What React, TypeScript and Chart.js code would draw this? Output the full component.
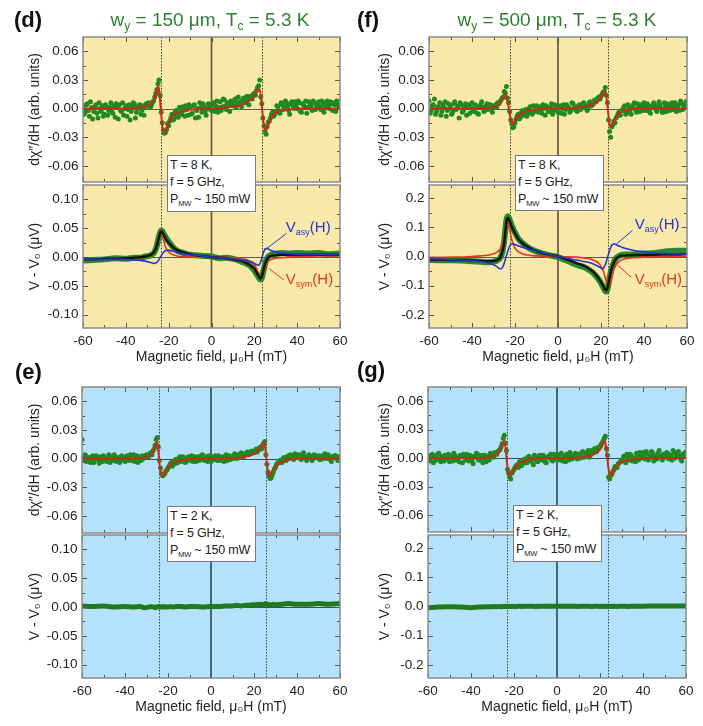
import React, { useEffect, useRef } from "react";
import { Chart, registerables } from "chart.js";
Chart.register(...registerables);

const FONT = 'Arial, "Liberation Sans", Helvetica, sans-serif';

// ---------- axes ----------
const FIELD = [
  -60, -59, -58, -57, -56, -55, -54, -53, -52, -51,
  -50, -49, -48, -47, -46, -45, -44, -43, -42, -41,
  -40, -39, -38, -37, -36, -35, -34, -33, -32, -31,
  -30, -29, -28, -27, -26, -25, -24, -23, -22, -21,
  -20, -19, -18, -17, -16, -15, -14, -13, -12, -11,
  -10, -9, -8, -7, -6, -5, -4, -3, -2, -1,
  0, 1, 2, 3, 4, 5, 6, 7, 8, 9,
  10, 11, 12, 13, 14, 15, 16, 17, 18, 19,
  20, 21, 22, 23, 24, 25, 26, 27, 28, 29,
  30, 31, 32, 33, 34, 35, 36, 37, 38, 39,
  40, 41, 42, 43, 44, 45, 46, 47, 48, 49,
  50, 51, 52, 53, 54, 55, 56, 57, 58, 59,
  60,
];
const FIELD_HALF = [
  -59.5, -58.5, -57.5, -56.5, -55.5, -54.5, -53.5, -52.5, -51.5, -50.5,
  -49.5, -48.5, -47.5, -46.5, -45.5, -44.5, -43.5, -42.5, -41.5, -40.5,
  -39.5, -38.5, -37.5, -36.5, -35.5, -34.5, -33.5, -32.5, -31.5, -30.5,
  -29.5, -28.5, -27.5, -26.5, -25.5, -24.5, -23.5, -22.5, -21.5, -20.5,
  -19.5, -18.5, -17.5, -16.5, -15.5, -14.5, -13.5, -12.5, -11.5, -10.5,
  -9.5, -8.5, -7.5, -6.5, -5.5, -4.5, -3.5, -2.5, -1.5, -0.5,
  0.5, 1.5, 2.5, 3.5, 4.5, 5.5, 6.5, 7.5, 8.5, 9.5,
  10.5, 11.5, 12.5, 13.5, 14.5, 15.5, 16.5, 17.5, 18.5, 19.5,
  20.5, 21.5, 22.5, 23.5, 24.5, 25.5, 26.5, 27.5, 28.5, 29.5,
  30.5, 31.5, 32.5, 33.5, 34.5, 35.5, 36.5, 37.5, 38.5, 39.5,
  40.5, 41.5, 42.5, 43.5, 44.5, 45.5, 46.5, 47.5, 48.5, 49.5,
  50.5, 51.5, 52.5, 53.5, 54.5, 55.5, 56.5, 57.5, 58.5, 59.5,
];
const FIT_FIELD = [
  -60, -55, -50, -45, -40,
  -36, -33, -31, -29, -28,
  -27, -26.5, -26, -25.5, -25,
  -24.5, -24, -23.5, -23, -22.5,
  -22, -21.5, -21, -20, -19,
  -18, -16, -14, -12, -10,
  -7, -4, 0, 4, 7,
  10, 12, 14, 16, 18,
  19, 20, 20.5, 21, 21.5,
  22, 22.5, 23, 23.5, 24,
  24.5, 25, 25.5, 26, 26.5,
  27, 28, 29, 30, 33,
  36, 40, 45, 50, 55,
  60,
];
const X_TICKS = [-60, -40, -20, 0, 20, 40, 60];
const X_MINOR = [-50, -30, -10, 10, 30, 50];
const CHI_TICKS = [-0.06, -0.03, 0, 0.03, 0.06];
const V_TICKS_D = [-0.1, -0.05, 0, 0.05, 0.1];
const V_TICKS_F = [-0.2, -0.1, 0, 0.1, 0.2];

// resonance fields (dotted lines)
const D_RES = [-23.7, 23.8];
const E_RES = [-24.3, 25.6];
const F_RES = [-22.5, 23.1];
const G_RES = [-23.4, 23.5];

// ---------- (d) 150 um, 8 K ----------
const D_CHI_DATA = [
  0.002, -0.004, 0.005, -0.008, 0.001, -0.003, 0.004, -0.010, 0.000, 0.003,
  -0.006, 0.002, -0.002, 0.006, -0.005, -0.009, 0.001, 0.004, -0.003, -0.007,
  0.003, -0.001, -0.012, 0.002, 0.005, -0.004, 0.000, -0.006, 0.003, 0.001,
  0.003, 0.005, 0.004, 0.008, 0.016, 0.026, 0.014, -0.015, -0.026, -0.022,
  -0.018, -0.010, -0.012, -0.004, -0.008, 0.001, -0.006, -0.002, 0.003, -0.007,
  0.002, -0.005, 0.004, -0.002, -0.009, 0.001, 0.005, -0.003, 0.000, 0.004,
  -0.002, 0.006, 0.003, -0.004, 0.007, 0.002, 0.009, -0.001, 0.004, 0.008,
  0.003, 0.010, 0.005, 0.007, 0.002, 0.011, 0.006, 0.009, 0.013, 0.010,
  0.016, 0.019, 0.024, 0.012, -0.010, -0.024, -0.019, -0.013, -0.006, -0.008,
  -0.003, 0.002, -0.005, 0.004, 0.001, 0.006, -0.002, 0.005, 0.003, 0.007,
  0.000, 0.006, -0.004, 0.004, 0.008, 0.001, 0.005, -0.002, 0.006, 0.003,
  0.007, -0.001, 0.004, 0.002, 0.008, 0.000, 0.005, 0.006, -0.003, 0.004,
  0.002,
];
const D_CHI_DATA2 = [
  -0.006, 0.004, -0.002, 0.007, -0.011, 0.002, -0.005, 0.006, -0.003, -0.008,
  0.004, -0.007, 0.001, -0.004, 0.003, 0.005, -0.011, -0.002, 0.006, 0.000,
  -0.008, 0.004, -0.003, 0.006, -0.010, 0.002, 0.004, -0.002, -0.007, 0.005,
  0.006, 0.001, 0.007, 0.012, 0.020, 0.030, -0.004, -0.023, -0.025, -0.016,
  -0.013, -0.006, -0.011, -0.002, -0.009, -0.004, 0.002, -0.008, -0.001, 0.004,
  -0.006, 0.003, -0.010, 0.000, 0.006, -0.004, 0.002, -0.007, 0.005, -0.001,
  0.004, -0.003, 0.008, 0.001, -0.002, 0.010, 0.003, 0.006, -0.003, 0.005,
  0.008, 0.001, 0.012, 0.004, 0.009, 0.006, 0.013, 0.004, 0.011, 0.015,
  0.014, 0.022, 0.030, 0.005, -0.018, -0.027, -0.014, -0.010, -0.004, -0.006,
  0.003, -0.004, 0.006, -0.001, 0.008, 0.002, -0.006, 0.007, 0.000, 0.004,
  0.008, -0.003, 0.005, 0.002, -0.005, 0.007, 0.003, 0.008, -0.001, 0.005,
  0.002, 0.008, -0.004, 0.006, 0.003, 0.007, -0.002, 0.004, 0.008, 0.001,
];
const D_CHI_FIT = [
  0, 0, 0, 0, 0,
  0.0005, 0.001, 0.002, 0.004, 0.006,
  0.009, 0.011, 0.014, 0.019, 0.023,
  0.02, 0.008, -0.006, -0.017, -0.023,
  -0.025, -0.024, -0.021, -0.015, -0.011,
  -0.008, -0.005, -0.003, -0.002, -0.001,
  -0.0005, 0, 0, 0.0005, 0.001,
  0.002, 0.003, 0.004, 0.006, 0.009,
  0.011, 0.013, 0.015, 0.017, 0.019,
  0.02, 0.02, 0.014, 0.003, -0.009,
  -0.018, -0.022, -0.023, -0.02, -0.017,
  -0.014, -0.009, -0.006, -0.004, -0.002,
  -0.001, 0, 0, 0, 0,
  0,
];
const D_V_DATA = [
  -0.006, -0.005, -0.004, -0.002, -0.003,
  -0.001, -0.001, 0.001, 0.002, 0.004,
  0.007, 0.010, 0.014, 0.020, 0.028,
  0.036, 0.042, 0.046, 0.045, 0.041,
  0.038, 0.035, 0.032, 0.027, 0.022,
  0.017, 0.011, 0.008, 0.006, 0.004,
  0.003, 0.002, 0.001, -0.002, -0.001,
  -0.003, -0.005, -0.008, -0.011, -0.015,
  -0.019, -0.023, -0.026, -0.029, -0.032,
  -0.035, -0.038, -0.039, -0.036, -0.028,
  -0.020, -0.012, -0.006, -0.002, 0.001,
  0.002, 0.004, 0.005, 0.006, 0.007,
  0.006, 0.007, 0.006, 0.007, 0.005,
  0.006,
];
const D_V_FIT = [
  -0.004, -0.004, -0.003, -0.003, -0.002,
  -0.001, 0.000, 0.001, 0.003, 0.005,
  0.008, 0.011, 0.015, 0.020, 0.027,
  0.034, 0.041, 0.045, 0.044, 0.040,
  0.036, 0.033, 0.030, 0.025, 0.021,
  0.017, 0.012, 0.009, 0.007, 0.005,
  0.003, 0.002, 0.000, -0.001, -0.002,
  -0.004, -0.005, -0.007, -0.010, -0.014,
  -0.017, -0.020, -0.023, -0.026, -0.030,
  -0.033, -0.036, -0.037, -0.034, -0.027,
  -0.019, -0.012, -0.007, -0.003, -0.001,
  0.001, 0.002, 0.003, 0.003, 0.004,
  0.004, 0.004, 0.004, 0.004, 0.004,
  0.004,
];
const D_V_SYM = [
  -0.003, -0.003, -0.003, -0.002, -0.002,
  -0.001, 0.000, 0.001, 0.003, 0.005,
  0.009, 0.012, 0.017, 0.023, 0.031,
  0.038, 0.042, 0.042, 0.038, 0.031,
  0.024, 0.018, 0.014, 0.009, 0.006,
  0.004, 0.002, 0.001, 0.001, 0.000,
  0.000, 0.000, 0.000, 0.000, -0.001,
  -0.001, -0.002, -0.003, -0.004, -0.007,
  -0.009, -0.013, -0.016, -0.020, -0.025,
  -0.030, -0.034, -0.036, -0.035, -0.031,
  -0.025, -0.019, -0.014, -0.010, -0.008,
  -0.006, -0.004, -0.003, -0.002, -0.001,
  0.000, 0.001, 0.001, 0.002, 0.002,
  0.002,
];
const D_V_ASY = [
  -0.004, -0.004, -0.004, -0.004, -0.004,
  -0.005, -0.006, -0.007, -0.009, -0.010,
  -0.011, -0.011, -0.010, -0.009, -0.007,
  -0.004, -0.001, 0.002, 0.005, 0.008,
  0.010, 0.011, 0.012, 0.012, 0.011,
  0.010, 0.008, 0.006, 0.005, 0.004,
  0.003, 0.002, 0.000, -0.001, -0.002,
  -0.003, -0.004, -0.005, -0.006, -0.008,
  -0.009, -0.011, -0.012, -0.013, -0.014,
  -0.014, -0.012, -0.008, -0.002, 0.005,
  0.010, 0.014, 0.015, 0.015, 0.014,
  0.013, 0.011, 0.010, 0.009, 0.007,
  0.006, 0.005, 0.004, 0.004, 0.004,
  0.004,
];

// ---------- (e) 150 um, 2 K ----------
const E_CHI_DATA = [
  0.020, 0.002, -0.003, 0.001, -0.004, 0.003, -0.001, 0.002, -0.005, 0.000,
  0.003, -0.002, 0.001, -0.004, 0.002, 0.004, -0.003, 0.000, 0.002, -0.001,
  -0.003, 0.003, 0.001, -0.002, 0.004, 0.000, -0.004, 0.002, 0.003, 0.001,
  0.004, 0.002, 0.006, 0.008, 0.014, 0.022, -0.002, -0.016, -0.017, -0.013,
  -0.010, -0.006, -0.008, -0.003, -0.005, 0.000, -0.003, 0.002, -0.004, 0.001,
  -0.002, 0.003, 0.000, -0.003, 0.002, -0.001, 0.004, -0.002, 0.001, 0.003,
  -0.003, 0.001, 0.003, -0.002, 0.002, 0.000, -0.003, 0.004, 0.001, -0.001,
  0.002, 0.005, 0.000, 0.003, 0.006, 0.002, 0.004, 0.007, 0.005, 0.008,
  0.006, 0.010, 0.009, 0.012, 0.014, 0.018, -0.006, -0.018, -0.020, -0.014,
  -0.009, -0.005, -0.002, -0.004, 0.001, -0.002, 0.003, 0.004, 0.001, 0.005,
  0.002, 0.004, -0.001, 0.006, 0.002, 0.000, 0.003, -0.002, 0.004, 0.001,
  0.003, -0.001, 0.002, 0.005, 0.000, 0.002, -0.003, 0.001, 0.003, -0.002,
  0.001,
];
const E_CHI_DATA2 = [
  -0.002, 0.004, 0.000, -0.003, 0.002, -0.004, 0.003, -0.001, 0.002, -0.003,
  0.001, -0.003, 0.004, 0.000, -0.002, 0.002, 0.001, -0.004, 0.003, 0.000,
  0.002, -0.002, 0.004, -0.001, -0.003, 0.003, 0.001, -0.002, 0.000, 0.003,
  0.002, 0.005, 0.004, 0.010, 0.020, 0.012, -0.010, -0.018, -0.016, -0.012,
  -0.008, -0.004, -0.006, -0.001, -0.004, 0.002, -0.002, 0.000, -0.003, 0.002,
  0.001, -0.003, 0.002, 0.000, -0.002, 0.003, -0.001, 0.002, -0.003, 0.000,
  0.002, -0.001, 0.000, 0.003, -0.002, 0.002, 0.001, -0.002, 0.003, 0.002,
  0.000, 0.003, 0.004, 0.001, 0.005, 0.003, 0.006, 0.004, 0.007, 0.006,
  0.008, 0.007, 0.011, 0.010, 0.016, 0.004, -0.014, -0.021, -0.017, -0.011,
  -0.006, -0.003, -0.004, 0.000, -0.002, 0.002, 0.000, 0.003, -0.001, 0.002,
  0.004, 0.000, 0.003, 0.001, -0.002, 0.004, 0.002, 0.000, 0.003, 0.001,
  -0.001, 0.003, 0.000, 0.002, 0.004, -0.001, 0.002, 0.003, 0.000, 0.002,
];
const E_CHI_FIT = [
  0, 0, 0, 0, 0,
  0, 0.0005, 0.001, 0.003, 0.004,
  0.007, 0.009, 0.012, 0.016, 0.018,
  0.008, -0.005, -0.012, -0.016, -0.018,
  -0.017, -0.015, -0.013, -0.01, -0.007,
  -0.005, -0.003, -0.002, -0.001, -0.0005,
  0, 0, 0, 0, 0,
  0, 0.0005, 0.001, 0.002, 0.003,
  0.004, 0.005, 0.006, 0.007, 0.008,
  0.009, 0.01, 0.011, 0.013, 0.015,
  0.017, 0.015, 0.006, -0.006, -0.014,
  -0.018, -0.015, -0.011, -0.008, -0.003,
  -0.001, 0, 0, 0, 0,
  0,
];
const E_V_DATA = [
  0.002, 0.001, 0.002, 0.000, 0.001,
  0.000, 0.001, -0.001, 0.000, 0.001,
  0.000, 0.000, -0.001, 0.000, 0.000,
  0.001, 0.000, 0.000, 0.001, 0.000,
  0.000, 0.001, 0.000, 0.000, 0.001,
  0.000, 0.001, 0.001, 0.000, 0.001,
  0.001, 0.000, 0.001, 0.001, 0.002,
  0.002, 0.003, 0.002, 0.003, 0.003,
  0.004, 0.004, 0.003, 0.004, 0.004,
  0.005, 0.004, 0.005, 0.004, 0.005,
  0.004, 0.005, 0.006, 0.005, 0.004,
  0.004, 0.004, 0.005, 0.004, 0.005,
  0.006, 0.005, 0.005, 0.006, 0.005,
  0.006,
];

// ---------- (f) 500 um, 8 K ----------
const F_CHI_DATA = [
  0.008, -0.002, 0.004, -0.006, 0.002, 0.006, -0.003, 0.001, -0.008, 0.005,
  0.003, -0.004, 0.007, 0.000, -0.010, 0.004, -0.002, 0.005, 0.001, -0.005,
  0.006, -0.003, 0.002, -0.006, 0.004, 0.001, -0.002, 0.005, 0.000, 0.003,
  0.002, 0.004, 0.006, 0.007, 0.011, 0.018, 0.023, 0.006, -0.012, -0.020,
  -0.015, -0.008, -0.011, -0.004, -0.007, -0.001, -0.005, 0.002, -0.006, -0.002,
  0.003, -0.004, -0.001, 0.004, -0.007, 0.001, -0.003, 0.005, -0.002, 0.002,
  -0.004, 0.003, 0.000, -0.006, 0.004, 0.001, -0.002, 0.005, 0.002, -0.003,
  0.004, 0.001, 0.006, 0.003, 0.000, 0.007, 0.004, 0.009, 0.008, 0.012,
  0.013, 0.017, 0.022, 0.006, -0.024, -0.019, -0.013, -0.010, -0.005, -0.007,
  -0.002, 0.003, -0.004, 0.001, -0.006, 0.004, -0.001, 0.005, -0.003, 0.002,
  0.006, -0.002, 0.003, -0.005, 0.001, 0.004, -0.003, 0.007, 0.000, -0.004,
  0.002, 0.005, -0.002, 0.006, 0.001, -0.003, 0.004, 0.008, -0.001, 0.003,
  0.005,
];
const F_CHI_DATA2 = [
  -0.005, 0.003, 0.010, -0.003, 0.001, -0.007, 0.004, 0.007, -0.002, 0.000,
  -0.006, 0.005, -0.001, 0.003, 0.006, -0.004, 0.002, -0.007, 0.004, 0.001,
  -0.002, 0.004, -0.005, 0.002, 0.007, -0.003, 0.003, -0.001, 0.004, -0.004,
  0.003, 0.001, 0.005, 0.009, 0.012, 0.016, 0.011, -0.003, -0.016, -0.019,
  -0.011, -0.006, -0.009, -0.002, -0.005, -0.008, 0.000, -0.004, 0.003, -0.003,
  -0.002, 0.002, -0.005, 0.000, 0.003, -0.003, 0.001, -0.006, 0.004, -0.001,
  0.002, -0.005, 0.004, -0.001, 0.002, -0.004, 0.006, 0.000, -0.002, 0.003,
  -0.001, 0.005, 0.002, -0.002, 0.006, 0.003, 0.005, 0.007, 0.011, 0.010,
  0.015, 0.018, 0.014, -0.012, -0.030, -0.017, -0.015, -0.008, -0.004, -0.002,
  0.001, -0.006, 0.004, -0.002, 0.002, 0.006, -0.004, 0.001, 0.004, -0.002,
  0.002, 0.005, -0.003, 0.003, 0.006, -0.001, 0.002, 0.004, -0.004, 0.006,
  -0.003, 0.001, 0.004, -0.001, 0.006, 0.002, -0.002, 0.005, 0.003, 0.007,
];
const F_CHI_FIT = [
  0, 0, 0, 0, 0,
  0, 0.0005, 0.001, 0.002, 0.003,
  0.005, 0.007, 0.009, 0.012, 0.014,
  0.015, 0.013, 0.008, 0.002, -0.005,
  -0.011, -0.015, -0.016, -0.013, -0.009,
  -0.007, -0.004, -0.002, -0.0015, -0.001,
  0, 0, 0, 0, 0.0005,
  0.001, 0.002, 0.003, 0.004, 0.007,
  0.009, 0.012, 0.014, 0.016, 0.018,
  0.017, 0.012, 0.003, -0.008, -0.017,
  -0.019, -0.018, -0.015, -0.013, -0.011,
  -0.009, -0.006, -0.004, -0.003, -0.001,
  0, 0, 0, 0, 0,
  0,
];
const F_V_DATA = [
  -0.012, -0.013, -0.013, -0.014, -0.016,
  -0.018, -0.020, -0.019, -0.016, -0.012,
  -0.006, 0.001, 0.012, 0.030, 0.054,
  0.090, 0.124, 0.138, 0.135, 0.126,
  0.116, 0.105, 0.097, 0.082, 0.068,
  0.057, 0.043, 0.032, 0.023, 0.017,
  0.010, 0.004, -0.002, -0.014, -0.024,
  -0.032, -0.036, -0.044, -0.054, -0.070,
  -0.080, -0.091, -0.098, -0.105, -0.112,
  -0.118, -0.120, -0.111, -0.094, -0.073,
  -0.055, -0.040, -0.029, -0.020, -0.012,
  -0.006, 0.000, 0.004, 0.006, 0.007,
  0.008, 0.010, 0.012, 0.017, 0.020,
  0.020,
];
const F_V_FIT = [
  -0.011, -0.011, -0.012, -0.012, -0.013,
  -0.015, -0.016, -0.016, -0.014, -0.011,
  -0.005, 0.002, 0.012, 0.028, 0.050,
  0.085, 0.118, 0.132, 0.130, 0.122,
  0.112, 0.102, 0.094, 0.080, 0.066,
  0.056, 0.042, 0.033, 0.024, 0.018,
  0.011, 0.006, 0.000, -0.010, -0.018,
  -0.026, -0.032, -0.040, -0.050, -0.066,
  -0.076, -0.087, -0.094, -0.101, -0.108,
  -0.114, -0.116, -0.108, -0.092, -0.072,
  -0.054, -0.040, -0.030, -0.021, -0.014,
  -0.008, -0.002, 0.002, 0.003, 0.004,
  0.005, 0.005, 0.006, 0.007, 0.007,
  0.008,
];
const F_V_SYM = [
  -0.003, -0.003, -0.002, -0.002, 0.000,
  0.002, 0.004, 0.007, 0.012, 0.017,
  0.025, 0.032, 0.042, 0.056, 0.074,
  0.096, 0.113, 0.118, 0.110, 0.094,
  0.075, 0.058, 0.046, 0.029, 0.020,
  0.014, 0.008, 0.005, 0.003, 0.002,
  0.001, 0.000, 0.000, -0.001, -0.002,
  -0.003, -0.005, -0.007, -0.011, -0.018,
  -0.024, -0.033, -0.040, -0.049, -0.060,
  -0.073, -0.087, -0.098, -0.102, -0.097,
  -0.085, -0.070, -0.056, -0.045, -0.036,
  -0.029, -0.020, -0.014, -0.010, -0.006,
  -0.004, -0.002, -0.001, 0.000, 0.000,
  0.000,
];
const F_V_ASY = [
  -0.009, -0.010, -0.011, -0.012, -0.014,
  -0.017, -0.021, -0.025, -0.032, -0.037,
  -0.042, -0.042, -0.039, -0.032, -0.022,
  -0.010, 0.003, 0.015, 0.026, 0.035,
  0.041, 0.043, 0.043, 0.041, 0.038,
  0.035, 0.030, 0.026, 0.022, 0.018,
  0.012, 0.006, 0.000, -0.006, -0.010,
  -0.014, -0.017, -0.020, -0.024, -0.031,
  -0.035, -0.040, -0.042, -0.041, -0.036,
  -0.028, -0.017, -0.004, 0.009, 0.021,
  0.031, 0.038, 0.042, 0.043, 0.043,
  0.041, 0.037, 0.034, 0.031, 0.025,
  0.020, 0.016, 0.012, 0.010, 0.009,
  0.008,
];

// ---------- (g) 500 um, 2 K ----------
const G_CHI_DATA = [
  0.002, -0.003, 0.004, 0.000, -0.002, 0.005, -0.004, 0.001, 0.003, -0.001,
  -0.004, 0.002, 0.005, -0.002, 0.000, 0.003, -0.005, 0.001, 0.004, -0.003,
  0.002, -0.006, 0.001, 0.004, -0.002, 0.003, 0.000, -0.004, 0.002, 0.005,
  0.003, 0.006, 0.004, 0.008, 0.012, 0.021, 0.016, -0.012, -0.020, -0.016,
  -0.012, -0.008, -0.010, -0.004, -0.006, -0.001, -0.005, 0.002, -0.003, -0.007,
  0.001, -0.004, 0.003, -0.002, 0.000, -0.005, 0.002, 0.004, -0.003, 0.001,
  0.003, -0.002, 0.005, 0.000, -0.004, 0.002, 0.006, -0.001, 0.003, 0.001,
  0.004, 0.000, 0.007, 0.003, 0.005, 0.001, 0.008, 0.006, 0.009, 0.011,
  0.012, 0.016, 0.021, 0.010, -0.020, -0.018, -0.014, -0.009, -0.010, -0.005,
  -0.002, 0.002, -0.005, 0.001, 0.004, -0.003, 0.000, 0.005, -0.002, 0.003,
  0.006, -0.001, 0.004, 0.000, 0.007, -0.003, 0.002, 0.005, 0.001, -0.002,
  0.004, 0.006, -0.001, 0.003, 0.008, 0.000, 0.005, 0.002, -0.003, 0.004,
  0.002,
];
const G_CHI_DATA2 = [
  -0.002, 0.003, -0.005, 0.002, 0.004, -0.001, 0.002, -0.003, 0.000, 0.004,
  0.001, -0.003, 0.003, 0.000, -0.004, 0.002, 0.004, -0.002, 0.000, 0.003,
  -0.003, 0.002, 0.005, -0.002, 0.001, -0.005, 0.003, 0.001, -0.002, 0.002,
  0.001, 0.004, 0.007, 0.009, 0.015, 0.024, 0.008, -0.016, -0.022, -0.014,
  -0.010, -0.007, -0.004, -0.008, -0.002, -0.005, 0.001, -0.003, -0.001, 0.003,
  -0.003, 0.002, -0.001, 0.003, -0.004, 0.001, 0.000, -0.002, 0.004, -0.001,
  0.001, 0.004, -0.003, 0.002, 0.004, -0.002, 0.003, 0.001, 0.005, -0.001,
  0.002, 0.006, 0.001, 0.004, 0.008, 0.003, 0.006, 0.010, 0.007, 0.012,
  0.014, 0.018, 0.023, 0.003, -0.022, -0.017, -0.012, -0.010, -0.006, -0.004,
  -0.003, 0.001, 0.004, -0.002, 0.003, 0.000, -0.004, 0.003, 0.006, 0.000,
  0.003, 0.007, -0.002, 0.002, 0.005, 0.001, -0.001, 0.008, 0.002, 0.004,
  0.001, 0.005, 0.002, -0.002, 0.006, 0.003, 0.007, -0.001, 0.004, 0.006,
];
const G_CHI_FIT = [
  0, 0, 0, 0, 0,
  0, 0.0005, 0.001, 0.003, 0.004,
  0.006, 0.008, 0.011, 0.014, 0.017,
  0.018, 0.012, 0.001, -0.01, -0.017,
  -0.019, -0.018, -0.016, -0.012, -0.009,
  -0.006, -0.004, -0.002, -0.001, -0.0005,
  0, 0, 0, 0, 0,
  0.0005, 0.001, 0.002, 0.003, 0.005,
  0.007, 0.009, 0.011, 0.013, 0.016,
  0.018, 0.016, 0.008, -0.002, -0.012,
  -0.018, -0.019, -0.017, -0.015, -0.013,
  -0.011, -0.008, -0.005, -0.004, -0.002,
  -0.001, 0, 0, 0, 0,
  0,
];
const G_V_DATA = [
  -0.004, -0.002, -0.001, -0.002, -0.004,
  -0.002, -0.001, -0.001, 0.000, -0.001,
  0.000, 0.000, -0.001, 0.000, 0.000,
  0.000, 0.001, 0.000, 0.000, 0.001,
  0.000, 0.000, 0.001, 0.000, 0.000,
  0.001, 0.000, 0.001, 0.001, 0.000,
  0.001, 0.001, 0.001, 0.001, 0.001,
  0.000, 0.001, 0.001, 0.000, 0.001,
  0.001, 0.000, 0.001, 0.001, 0.000,
  0.001, 0.001, 0.000, 0.001, 0.001,
  0.000, 0.001, 0.001, 0.000, 0.001,
  0.001, 0.000, 0.001, 0.001, 0.000,
  0.001, 0.001, 0.002, 0.002, 0.002,
  0.002,
];

// ---------- styles ----------
const YELLOW = "#f8e9aa";
const BLUE = "#b4e2fa";
const DOT = "#1f8a1f";
const FIT_RED = "#cc2a18";
const LINE_GREEN = "#2a8a2a";
const SYM_RED = "#e8341c";
const ASY_BLUE = "#2634d6";
const CHI_TITLE = "d\u03C7\u2033/dH (arb. units)";
const V_TITLE = "V - V\u2080 (\u03BCV)";
const X_TITLE = "Magnetic field, \u03BC\u2080H (mT)";

type Series = { field: number[]; values: number[]; kind: "dots" | "line"; color: string; width?: number; radius?: number };
type Note = { main: string; sub: string; tail: string; color: string; x: number; y: number; lx1: number; ly1: number; lx2: number; ly2: number };

const dots = (field: number[], values: number[]): Series => ({ field, values, kind: "dots", color: DOT, radius: 2.5 });
const line = (values: number[], color: string, width: number): Series => ({ field: FIT_FIELD, values, kind: "line", color, width });

const D_NOTES: Note[] = [
  { main: "V", sub: "asy", tail: "(H)", color: ASY_BLUE, x: 34.7, y: 0.051, lx1: 24.8, ly1: 0.012, lx2: 35.0, ly2: 0.041 },
  { main: "V", sub: "sym", tail: "(H)", color: SYM_RED, x: 34.7, y: -0.039, lx1: 26.9, ly1: -0.02, lx2: 33.9, ly2: -0.04 },
];
const F_NOTES: Note[] = [
  { main: "V", sub: "asy", tail: "(H)", color: ASY_BLUE, x: 35.7, y: 0.109, lx1: 27.2, ly1: 0.043, lx2: 34.6, ly2: 0.089 },
  { main: "V", sub: "sym", tail: "(H)", color: SYM_RED, x: 35.7, y: -0.079, lx1: 27.9, ly1: -0.031, lx2: 34.1, ly2: -0.071 },
];

type PanelDef = {
  key: string; box: number[]; colX: number; colW: number; xAxis: boolean;
  yMin: number; yMax: number; ticks: number[]; digits: number; yTitle: string;
  bg: string; res: number[]; series: Series[]; notes?: Note[];
};

const PANELS: PanelDef[] = [
  { key: "d1", box: [83, 37, 340, 182], colX: 0, colW: 350, xAxis: false, yMin: -0.077, yMax: 0.075, ticks: CHI_TICKS, digits: 2, yTitle: CHI_TITLE, bg: YELLOW, res: D_RES,
    series: [line(D_CHI_FIT, FIT_RED, 2), dots(FIELD, D_CHI_DATA), dots(FIELD_HALF, D_CHI_DATA2)] },
  { key: "d2", box: [83, 185, 340, 328], colX: 0, colW: 350, xAxis: true, yMin: -0.123, yMax: 0.125, ticks: V_TICKS_D, digits: 2, yTitle: V_TITLE, bg: YELLOW, res: D_RES,
    series: [line(D_V_ASY, ASY_BLUE, 1.6), line(D_V_FIT, "#111111", 2.4), line(D_V_SYM, SYM_RED, 1.6), line(D_V_DATA, LINE_GREEN, 6)], notes: D_NOTES },
  { key: "e1", box: [82, 387, 340, 533], colX: 0, colW: 350, xAxis: false, yMin: -0.078, yMax: 0.075, ticks: CHI_TICKS, digits: 2, yTitle: CHI_TITLE, bg: BLUE, res: E_RES,
    series: [line(E_CHI_FIT, FIT_RED, 2), dots(FIELD, E_CHI_DATA), dots(FIELD_HALF, E_CHI_DATA2)] },
  { key: "e2", box: [82, 535, 340, 678], colX: 0, colW: 350, xAxis: true, yMin: -0.123, yMax: 0.125, ticks: V_TICKS_D, digits: 2, yTitle: V_TITLE, bg: BLUE, res: E_RES,
    series: [line(E_V_DATA, "#1f7a1f", 5)] },
  { key: "f1", box: [429, 37, 687, 182], colX: 350, colW: 353, xAxis: false, yMin: -0.077, yMax: 0.075, ticks: CHI_TICKS, digits: 2, yTitle: CHI_TITLE, bg: YELLOW, res: F_RES,
    series: [line(F_CHI_FIT, FIT_RED, 2), dots(FIELD, F_CHI_DATA), dots(FIELD_HALF, F_CHI_DATA2)] },
  { key: "f2", box: [429, 185, 687, 328], colX: 350, colW: 353, xAxis: true, yMin: -0.245, yMax: 0.245, ticks: V_TICKS_F, digits: 1, yTitle: V_TITLE, bg: YELLOW, res: F_RES,
    series: [line(F_V_ASY, ASY_BLUE, 1.6), line(F_V_FIT, "#111111", 2.4), line(F_V_SYM, SYM_RED, 1.6), line(F_V_DATA, LINE_GREEN, 6)], notes: F_NOTES },
  { key: "g1", box: [428, 387, 686, 532], colX: 350, colW: 353, xAxis: false, yMin: -0.078, yMax: 0.075, ticks: CHI_TICKS, digits: 2, yTitle: CHI_TITLE, bg: BLUE, res: G_RES,
    series: [line(G_CHI_FIT, FIT_RED, 2), dots(FIELD, G_CHI_DATA), dots(FIELD_HALF, G_CHI_DATA2)] },
  { key: "g2", box: [428, 535, 686, 678], colX: 350, colW: 353, xAxis: true, yMin: -0.245, yMax: 0.245, ticks: V_TICKS_F, digits: 1, yTitle: V_TITLE, bg: BLUE, res: G_RES,
    series: [line(G_V_DATA, "#1f7a1f", 5)] },
];

function Panel({ def }: { def: PanelDef }) {
  const ref = useRef<HTMLCanvasElement | null>(null);
  const [L, T, R, B] = def.box;
  const padTop = 6;
  const xh = def.xAxis ? 38 : 0;
  const padBottom = def.xAxis ? 2 : 6;
  const H = B - T + padTop + xh + padBottom;
  const W = def.colW;

  useEffect(() => {
    const canvas = ref.current;
    if (!canvas) return;
    const yellow = def.bg === YELLOW;
    const zeroColor = yellow ? "#5e5a48" : "#34505f";
    const dotColor = yellow ? "#3d3d3d" : "#2e4b5c";

    const plugin = {
      id: "panelDeco",
      beforeDraw(chart: any) {
        const { ctx, chartArea: a } = chart;
        ctx.save();
        ctx.fillStyle = def.bg;
        ctx.fillRect(a.left, a.top, a.right - a.left, a.bottom - a.top);
        ctx.restore();
      },
      beforeDatasetsDraw(chart: any) {
        const { ctx, chartArea: a, scales } = chart;
        const xs = scales.x, ys = scales.y;
        ctx.save();
        ctx.strokeStyle = dotColor;
        ctx.lineWidth = 1;
        ctx.setLineDash([1.5, 1.5]);
        def.res.forEach((v) => {
          const px = Math.round(xs.getPixelForValue(v)) + 0.5;
          ctx.beginPath(); ctx.moveTo(px, a.top); ctx.lineTo(px, a.bottom); ctx.stroke();
        });
        ctx.setLineDash([]);
        ctx.strokeStyle = zeroColor;
        ctx.lineWidth = 1;
        const py = Math.round(ys.getPixelForValue(0)) + 0.5;
        ctx.beginPath(); ctx.moveTo(a.left, py); ctx.lineTo(a.right, py); ctx.stroke();
        ctx.lineWidth = 1.7;
        const px0 = xs.getPixelForValue(0);
        ctx.beginPath(); ctx.moveTo(px0, a.top); ctx.lineTo(px0, a.bottom); ctx.stroke();
        ctx.restore();
      },
      afterDatasetsDraw(chart: any) {
        const { ctx, chartArea: a, scales } = chart;
        const xs = scales.x, ys = scales.y;
        ctx.save();
        ctx.strokeStyle = "#555";
        ctx.lineWidth = 1;
        const tickX = (v: number, len: number) => {
          const px = Math.round(xs.getPixelForValue(v)) + 0.5;
          ctx.beginPath();
          ctx.moveTo(px, a.bottom); ctx.lineTo(px, a.bottom - len);
          ctx.moveTo(px, a.top); ctx.lineTo(px, a.top + len);
          ctx.stroke();
        };
        const tickY = (v: number, len: number) => {
          const py = Math.round(ys.getPixelForValue(v)) + 0.5;
          ctx.beginPath();
          ctx.moveTo(a.left, py); ctx.lineTo(a.left + len, py);
          ctx.moveTo(a.right, py); ctx.lineTo(a.right - len, py);
          ctx.stroke();
        };
        X_TICKS.forEach((v) => tickX(v, 5));
        X_MINOR.forEach((v) => tickX(v, 3));
        def.ticks.forEach((v) => tickY(v, 5));
        for (let i = 0; i < def.ticks.length - 1; i++) tickY((def.ticks[i] + def.ticks[i + 1]) / 2, 3);
        ctx.strokeStyle = "#8a8a8a";
        ctx.lineWidth = 1.5;
        ctx.strokeRect(a.left, a.top, a.right - a.left, a.bottom - a.top);
        (def.notes || []).forEach((n) => {
          ctx.strokeStyle = n.color;
          ctx.fillStyle = n.color;
          ctx.lineWidth = 1;
          ctx.beginPath();
          ctx.moveTo(xs.getPixelForValue(n.lx1), ys.getPixelForValue(n.ly1));
          ctx.lineTo(xs.getPixelForValue(n.lx2), ys.getPixelForValue(n.ly2));
          ctx.stroke();
          let px = xs.getPixelForValue(n.x);
          const py = ys.getPixelForValue(n.y);
          ctx.textBaseline = "middle";
          ctx.textAlign = "left";
          ctx.font = `15px ${FONT}`;
          ctx.fillText(n.main, px, py);
          px += ctx.measureText(n.main).width;
          ctx.font = `9px ${FONT}`;
          ctx.fillText(n.sub, px, py + 5);
          px += ctx.measureText(n.sub).width;
          ctx.font = `15px ${FONT}`;
          ctx.fillText(n.tail, px, py);
        });
        ctx.restore();
      },
    };

    const chart = new Chart(canvas, {
      type: "scatter",
      data: {
        datasets: def.series.map((s) => ({
          data: s.field.map((x, i) => ({ x, y: s.values[i] })),
          showLine: s.kind === "line",
          borderColor: s.color,
          backgroundColor: s.color,
          borderWidth: s.kind === "line" ? s.width : 0,
          pointRadius: s.kind === "dots" ? s.radius : 0,
          pointHoverRadius: 0,
          cubicInterpolationMode: "monotone",
          tension: 0.3,
          borderCapStyle: "round",
          borderJoinStyle: "round",
          clip: 0,
        })),
      } as any,
      options: {
        responsive: false,
        animation: false,
        events: [],
        layout: { padding: { left: 0, top: padTop, right: def.colX + W - R, bottom: padBottom } },
        plugins: { legend: { display: false }, tooltip: { enabled: false } },
        scales: {
          x: {
            type: "linear",
            min: -60,
            max: 60,
            display: def.xAxis,
            grid: { display: false, drawTicks: false },
            border: { display: false },
            ticks: { font: { family: FONT, size: 13.5 }, color: "#222", padding: 5, maxRotation: 0, autoSkip: false, callback: (v: any) => String(v) },
            afterBuildTicks: (s: any) => { s.ticks = X_TICKS.map((v) => ({ value: v })); },
            afterFit: (s: any) => { s.height = xh; s.paddingLeft = 0; s.paddingRight = 0; },
            title: { display: true, text: X_TITLE, font: { family: FONT, size: 14, lineHeight: 1.2 }, color: "#222", padding: { top: 0, bottom: 0 } },
          },
          y: {
            type: "linear",
            min: def.yMin,
            max: def.yMax,
            grid: { display: false, drawTicks: false },
            border: { display: false },
            ticks: { font: { family: FONT, size: 13.5 }, color: "#222", padding: 4.5, callback: (v: any) => Number(v).toFixed(def.digits) },
            afterBuildTicks: (s: any) => { s.ticks = def.ticks.map((v) => ({ value: v })); },
            afterFit: (s: any) => { s.width = L - def.colX; s.paddingTop = 0; s.paddingBottom = 0; },
            title: { display: true, text: def.yTitle, font: { family: FONT, size: 14, lineHeight: 1.2 }, color: "#222", padding: { top: 26.6, bottom: 0 } },
          },
        },
      } as any,
      plugins: [plugin],
    });
    return () => chart.destroy();
  }, []);

  return (
    <canvas
      ref={ref}
      width={W}
      height={H}
      style={{ position: "absolute", left: def.colX, top: T - padTop, width: W, height: H }}
    />
  );
}

const LABELS = [
  { text: "(d)", left: 14, top: 8 },
  { text: "(e)", left: 15, top: 360 },
  { text: "(f)", left: 357, top: 8 },
  { text: "(g)", left: 357, top: 358 },
];
const BOXES = [
  { t: "8", left: 167, top: 155, width: 89, height: 57 },
  { t: "2", left: 167, top: 506, width: 89, height: 56 },
  { t: "8", left: 515, top: 155, width: 89, height: 56 },
  { t: "2", left: 513, top: 505, width: 89, height: 57 },
];

export default function App() {
  return (
    <div style={{ position: "absolute", left: 0, top: 0, width: 703, height: 726, background: "#fff", overflow: "hidden", fontFamily: FONT }}>
      {PANELS.map((p) => <Panel key={p.key} def={p} />)}
      {LABELS.map((l) => (
        <div key={l.text} style={{ position: "absolute", left: l.left, top: l.top, fontSize: 22, lineHeight: "24px", fontWeight: "bold", color: "#111" }}>{l.text}</div>
      ))}
      <div style={{ position: "absolute", left: 60, top: 8, width: 300, textAlign: "center", fontSize: 19, lineHeight: "24px", color: "#2f7f2f" }}>
        w<sub style={{ fontSize: 12, verticalAlign: "-4px" }}>y</sub> = 150 μm, T<sub style={{ fontSize: 12, verticalAlign: "-4px" }}>c</sub> = 5.3 K
      </div>
      <div style={{ position: "absolute", left: 407, top: 8, width: 300, textAlign: "center", fontSize: 19, lineHeight: "24px", color: "#2f7f2f" }}>
        w<sub style={{ fontSize: 12, verticalAlign: "-4px" }}>y</sub> = 500 μm, T<sub style={{ fontSize: 12, verticalAlign: "-4px" }}>c</sub> = 5.3 K
      </div>
      {BOXES.map((b, i) => (
        <div key={i} style={{ position: "absolute", left: b.left, top: b.top, width: b.width, height: b.height, boxSizing: "border-box", background: "#fff", border: "1px solid #7a7a7a", fontSize: 12.5, lineHeight: "17px", padding: "1px 0 0 2px", color: "#222", whiteSpace: "nowrap", zIndex: 3, letterSpacing: "-0.2px" }}>
          <div>T = {b.t} K,</div>
          <div>f = 5 GHz,</div>
          <div>P<sub style={{ fontSize: 7.5, verticalAlign: "-3px" }}>MW</sub> ~ 150 mW</div>
        </div>
      ))}
    </div>
  );
}
